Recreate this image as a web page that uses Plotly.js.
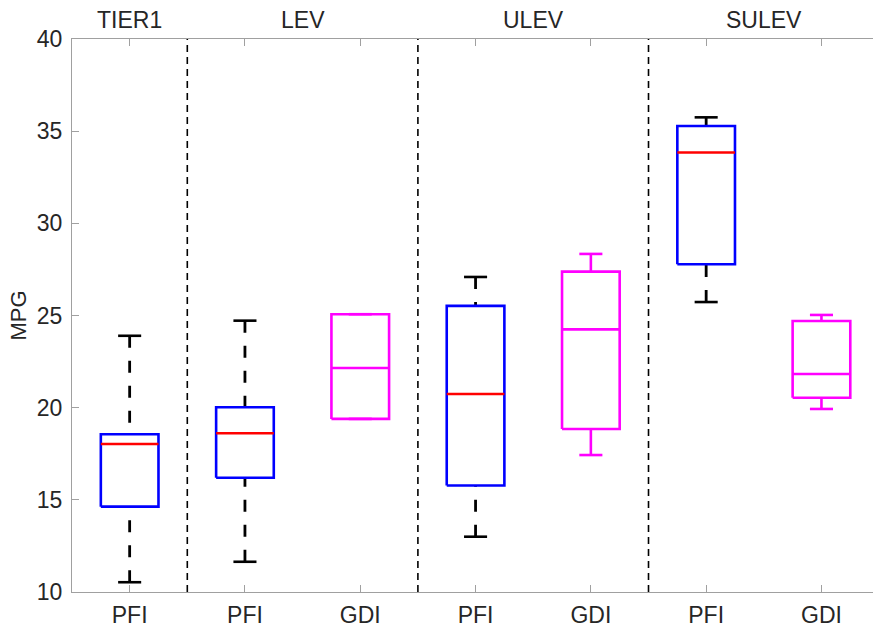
<!DOCTYPE html>
<html>
<head>
<meta charset="utf-8">
<script src="https://cdn.plot.ly/plotly-3.0.1.min.js"></script>
<style>
  html, body { margin: 0; padding: 0; background: #ffffff; overflow: hidden; }
  #chart { width: 873px; height: 627px; }
</style>
</head>
<body>
<div id="chart"></div>
<script>
// Fuel economy (MPG) by emission standard and injection type
const categories   = ['PFI', 'PFI', 'GDI', 'PFI', 'GDI', 'PFI', 'GDI'];
const positions    = [1, 2, 3, 4, 5, 6, 7];
const groupNames   = ['TIER1', 'LEV', 'ULEV', 'SULEV'];
const groupCenters = [1, 2.5, 4.5, 6.5];
const groupBreaks  = [1.5, 3.5, 5.5];

const upperWhisker = [23.9, 24.72, 25.07, 27.09, 28.34, 35.75, 25.03];
const q3Values     = [18.56, 20.02, 25.07, 25.52, 27.38, 35.28, 24.70];
const medianValues = [18.03, 18.61, 22.15, 20.74, 24.25, 33.84, 21.83];
const q1Values     = [14.63, 16.20, 19.39, 15.78, 18.84, 27.78, 20.54];
const lowerWhisker = [10.53, 11.64, 19.39, 13.00, 17.43, 25.73, 19.93];

const yTicks = [10, 15, 20, 25, 30, 35, 40];

const BOX_HALF = 0.25;
const CAP_HALF = 0.1;

// Collect polyline coordinates for one injection type, separated by nulls
function collect(type, builder) {
  const xs = [], ys = [];
  categories.forEach((c, i) => {
    if (c !== type) return;
    builder(i).forEach(seg => {
      xs.push(...seg[0], null);
      ys.push(...seg[1], null);
    });
  });
  return { x: xs, y: ys };
}

const boxOutline = i => {
  const p = positions[i];
  return [[[p - BOX_HALF, p + BOX_HALF, p + BOX_HALF, p - BOX_HALF, p - BOX_HALF],
           [q1Values[i], q1Values[i], q3Values[i], q3Values[i], q1Values[i]]]];
};
const medianLine = i => {
  const p = positions[i];
  return [[[p - BOX_HALF, p + BOX_HALF], [medianValues[i], medianValues[i]]]];
};
const whiskers = i => {
  const p = positions[i];
  return [[[p, p], [upperWhisker[i], q3Values[i]]],
          [[p, p], [lowerWhisker[i], q1Values[i]]]];
};
const caps = i => {
  const p = positions[i];
  return [[[p - CAP_HALF, p + CAP_HALF], [upperWhisker[i], upperWhisker[i]]],
          [[p - CAP_HALF, p + CAP_HALF], [lowerWhisker[i], lowerWhisker[i]]]];
};

function lineTrace(data, color, width, dash) {
  return Object.assign({
    type: 'scatter', mode: 'lines', hoverinfo: 'skip', showlegend: false,
    connectgaps: false,
    line: { color: color, width: width, dash: dash || 'solid' }
  }, data);
}

const BLUE = '#0000ff', RED = '#ff0000', MAGENTA = '#ff00ff', BLACK = '#000000';

const traces = [
  lineTrace(collect('PFI', whiskers), BLACK, 2.8, '12px,13px'),
  lineTrace(collect('PFI', caps), BLACK, 2.6),
  lineTrace(collect('GDI', whiskers), MAGENTA, 2.6),
  lineTrace(collect('GDI', caps), MAGENTA, 2.6),
  lineTrace(collect('PFI', boxOutline), BLUE, 2.6),
  lineTrace(collect('GDI', boxOutline), MAGENTA, 2.6),
  lineTrace(collect('PFI', medianLine), RED, 2.6),
  lineTrace(collect('GDI', medianLine), MAGENTA, 2.6)
];

const TEXT = '#262626';
const AXIS = '#a0a0a0';
const FONT = '"Liberation Sans", Arial, sans-serif';

const shapes = groupBreaks.map(b => ({
  type: 'line', xref: 'x', yref: 'paper',
  x0: b, x1: b, y0: 0, y1: 1,
  line: { color: BLACK, width: 1.6, dash: '7px,5px' },
  layer: 'above'
}));

const annotations = groupNames.map((g, k) => ({
  text: g, xref: 'x', yref: 'paper',
  x: groupCenters[k], y: 1, yshift: 19,
  xanchor: 'center', yanchor: 'middle',
  showarrow: false,
  font: { family: FONT, size: 23, color: TEXT }
}));

const layout = {
  width: 873, height: 627,
  margin: { l: 72, r: 0, t: 39, b: 35, pad: 0 },
  paper_bgcolor: '#ffffff', plot_bgcolor: '#ffffff',
  font: { family: FONT, size: 23, color: TEXT },
  showlegend: false,
  xaxis: {
    range: [0.5, 7.447],
    tickmode: 'array', tickvals: positions, ticktext: categories,
    ticks: 'inside', ticklen: 7, tickcolor: AXIS, tickwidth: 1,
    showline: true, linecolor: AXIS, linewidth: 1, mirror: 'ticks',
    showgrid: false, zeroline: false,
    tickfont: { family: FONT, size: 23, color: TEXT },
    ticklabelstandoff: 2,
    fixedrange: true
  },
  yaxis: {
    range: [10, 40],
    tickmode: 'array', tickvals: yTicks,
    ticks: 'inside', ticklen: 7, tickcolor: AXIS, tickwidth: 1,
    showline: true, linecolor: AXIS, linewidth: 1,
    showgrid: false, zeroline: false,
    tickfont: { family: FONT, size: 23, color: TEXT },
    ticklabelstandoff: 4,
    title: { text: 'MPG', font: { family: FONT, size: 22, color: TEXT }, standoff: 4 },
    fixedrange: true
  },
  shapes: shapes,
  annotations: annotations
};

Plotly.newPlot('chart', traces, layout, { displayModeBar: false, staticPlot: true });
</script>
</body>
</html>
